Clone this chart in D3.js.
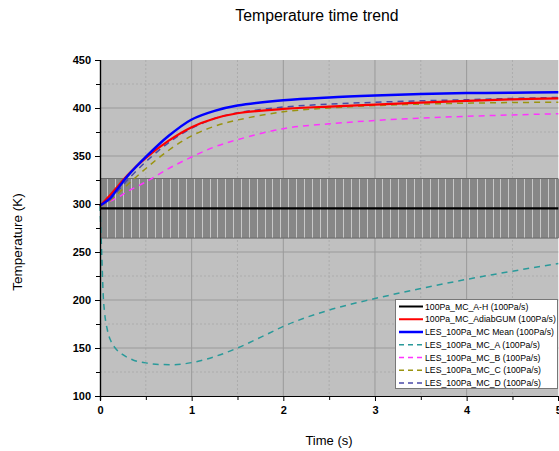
<!DOCTYPE html>
<html>
<head>
<meta charset="utf-8">
<script src="https://cdn.jsdelivr.net/npm/d3@7/dist/d3.min.js"></script>
<style>
  html, body { margin: 0; padding: 0; background: #fff; }
  svg { display: block; }
  text { font-family: Arial, "Liberation Sans", sans-serif; }
</style>
</head>
<body>
<svg id="chart" width="559" height="451"></svg>
<script>
// Temperature (K) against time (s) for the 100 Pa/s cases

// Reference run A-H: constant level with a symmetric uncertainty band
const refLevel = 295.5;
const refHalfBand = 31;
const refStep = 0.0125;

// Adiabatic GUM model
const gumTime = [0, 0.1, 0.2, 0.3, 0.5, 0.75, 1, 1.25, 1.5, 2, 2.5, 3, 3.5, 4, 4.5, 5];
const gumTemp = [298, 308, 319, 330, 348, 366, 380, 389, 394.5, 399, 401.5, 403.5, 405.5, 407.5, 409, 410];

// LES mean over the runs
const meanTime = [0, 0.1, 0.2, 0.3, 0.5, 0.75, 1, 1.25, 1.5, 2, 2.5, 3, 3.5, 4, 4.5, 5];
const meanTemp = [298.5, 305, 317, 329, 349, 371, 388, 397, 402.5, 408, 411, 413, 414.5, 415.5, 416, 416.5];

// LES run A
const aTime = [0, 0.01, 0.02, 0.035, 0.05, 0.08, 0.12, 0.17, 0.25, 0.36, 0.5, 0.65, 0.8, 1, 1.25, 1.5, 1.75, 2, 2.5, 3, 3.5, 4, 4.5, 5];
const aTemp = [299, 272, 245, 205, 187, 169, 157, 149.5, 143, 137.5, 134.5, 132.8, 132.6, 134.8, 141, 150, 161, 172.5, 189.5, 201.5, 212, 221.5, 230, 238];

// LES run B
const bTime = [0, 0.1, 0.2, 0.3, 0.5, 0.75, 1, 1.25, 1.5, 2, 2.5, 3, 3.5, 4, 4.5, 5];
const bTemp = [298, 302.5, 307, 313, 323, 337, 349, 359.5, 367, 378.5, 383.5, 387, 389.5, 391.3, 392.8, 394];

// LES run C
const cTime = [0, 0.1, 0.2, 0.3, 0.5, 0.75, 1, 1.25, 1.5, 2, 2.5, 3, 3.5, 4, 4.5, 5];
const cTemp = [298, 303, 311, 320, 337, 356, 371, 381, 387.5, 396, 400, 402.5, 404, 405, 405.7, 406];

// LES run D
const dTime = [0, 0.1, 0.2, 0.3, 0.5, 0.75, 1, 1.25, 1.5, 2, 2.5, 3, 3.5, 4, 4.5, 5];
const dTemp = [298, 304, 314, 325, 344, 364, 379, 389, 395, 401, 404, 406, 407.5, 408.6, 410, 411];

const legendLabels = [
  "100Pa_MC_A-H (100Pa/s)",
  "100Pa_MC_AdiabGUM (100Pa/s)",
  "LES_100Pa_MC Mean (100Pa/s)",
  "LES_100Pa_MC_A (100Pa/s)",
  "LES_100Pa_MC_B (100Pa/s)",
  "LES_100Pa_MC_C (100Pa/s)",
  "LES_100Pa_MC_D (100Pa/s)"
];

const xTicks = [0, 1, 2, 3, 4, 5];
const yTicks = [100, 150, 200, 250, 300, 350, 400, 450];

const svg = d3.select("#chart");
const plot = { left: 100, right: 558.3, top: 60, bottom: 396 };

const x = d3.scaleLinear().domain([0, 5]).range([plot.left, plot.right]);
const y = d3.scaleLinear().domain([100, 450]).range([plot.bottom, plot.top]);

svg.append("rect").attr("width", 559).attr("height", 451).attr("fill", "#fff");

// plot background
svg.append("rect")
  .attr("x", plot.left).attr("y", plot.top)
  .attr("width", plot.right - plot.left).attr("height", plot.bottom - plot.top)
  .attr("fill", "#c0c0c0");

const grid = svg.append("g");
// minor grid (dotted)
const xMinor = d3.range(0.5, 5, 1);
const yMinor = d3.range(125, 450, 50);
grid.selectAll(".xm").data(xMinor).join("line")
  .attr("x1", d => x(d)).attr("x2", d => x(d))
  .attr("y1", plot.top).attr("y2", plot.bottom)
  .attr("stroke", "#acacac").attr("stroke-width", 1).attr("stroke-dasharray", "2,2");
grid.selectAll(".ym").data(yMinor).join("line")
  .attr("x1", plot.left).attr("x2", plot.right)
  .attr("y1", d => y(d)).attr("y2", d => y(d))
  .attr("stroke", "#acacac").attr("stroke-width", 1).attr("stroke-dasharray", "2,2");
// major grid
grid.selectAll(".xg").data(xTicks.slice(1, -1)).join("line")
  .attr("x1", d => x(d)).attr("x2", d => x(d))
  .attr("y1", plot.top).attr("y2", plot.bottom)
  .attr("stroke", "#9a9a9a").attr("stroke-width", 1);
grid.selectAll(".yg").data(yTicks.slice(1, -1)).join("line")
  .attr("x1", plot.left).attr("x2", plot.right)
  .attr("y1", d => y(d)).attr("y2", d => y(d))
  .attr("stroke", "#9a9a9a").attr("stroke-width", 1);

// error bars of the reference run
const errTimes = d3.range(0, 5 + refStep / 2, refStep);
const eb = svg.append("g");
eb.append("rect")
  .attr("x", plot.left).attr("y", y(refLevel + refHalfBand))
  .attr("width", plot.right - plot.left)
  .attr("height", y(refLevel - refHalfBand) - y(refLevel + refHalfBand))
  .attr("fill", "#c8c8c8");
eb.selectAll("line.bar").data(errTimes).join("line")
  .attr("class", "bar")
  .attr("x1", d => x(d)).attr("x2", d => x(d))
  .attr("y1", y(refLevel + refHalfBand)).attr("y2", y(refLevel - refHalfBand))
  .attr("stroke", "#878787").attr("stroke-width", 1)
  .attr("shape-rendering", "crispEdges");
[refLevel + refHalfBand, refLevel - refHalfBand].forEach(v => {
  eb.append("line")
    .attr("x1", plot.left).attr("x2", plot.right)
    .attr("y1", y(v)).attr("y2", y(v))
    .attr("stroke", "#666").attr("stroke-width", 1);
});

const smooth = d3.line().x(d => x(d[0])).y(d => y(d[1])).curve(d3.curveCatmullRom.alpha(0.5));
const mono = d3.line().x(d => x(d[0])).y(d => y(d[1])).curve(d3.curveMonotoneX);
const zip = (t, v) => t.map((d, i) => [d, v[i]]);

const series = [
  { data: [[0, refLevel], [5, refLevel]], color: "#000000", width: 2.2, dash: null, gen: smooth },
  { data: zip(gumTime, gumTemp), color: "#ff0000", width: 2.2, dash: null, gen: smooth },
  { data: zip(meanTime, meanTemp), color: "#0000ff", width: 2.5, dash: null, gen: smooth },
  { data: zip(aTime, aTemp), color: "#2a9a9a", width: 1.5, dash: "6,5", gen: mono },
  { data: zip(bTime, bTemp), color: "#ff33ff", width: 1.5, dash: "6,5", gen: smooth },
  { data: zip(cTime, cTemp), color: "#9a9410", width: 1.5, dash: "6,5", gen: smooth },
  { data: zip(dTime, dTemp), color: "#4a4aa8", width: 1.5, dash: "6,5", gen: smooth }
];

// draw order: black, dashed runs, then red and blue on top
const order = [0, 3, 4, 5, 6, 1, 2];
const lines = svg.append("g");
order.forEach(i => {
  const s = series[i];
  lines.append("path")
    .attr("d", s.gen(s.data))
    .attr("fill", "none")
    .attr("stroke", s.color)
    .attr("stroke-width", s.width)
    .attr("stroke-dasharray", s.dash);
});

// axes
const xAxis = d3.axisBottom(x).tickValues(xTicks).tickSize(5).tickPadding(5).tickFormat(d3.format("d"));
const xAxisMinor = d3.axisBottom(x).tickValues(xMinor).tickSize(4).tickFormat("");
const yAxis = d3.axisLeft(y).tickValues(yTicks).tickSize(5).tickPadding(4).tickFormat(d3.format("d"));
const yAxisMinor = d3.axisLeft(y).tickValues(yMinor).tickSize(4).tickFormat("");

function styleAxis(g) {
  g.select(".domain").attr("stroke", "#000").attr("stroke-width", 1.2);
  g.selectAll(".tick line").attr("stroke", "#000").attr("stroke-width", 1);
  g.selectAll(".tick text")
    .attr("fill", "#000")
    .style("font-family", "Arial, 'Liberation Sans', sans-serif")
    .style("font-size", "11px")
    .style("font-weight", "bold");
}

svg.append("g").attr("transform", `translate(0,${plot.bottom})`).call(xAxisMinor).call(styleAxis);
svg.append("g").attr("transform", `translate(0,${plot.bottom})`).call(xAxis).call(styleAxis);
svg.append("g").attr("transform", `translate(${plot.left},0)`).call(yAxisMinor).call(styleAxis);
svg.append("g").attr("transform", `translate(${plot.left},0)`).call(yAxis).call(styleAxis);

// legend
const lg = svg.append("g");
lg.append("rect")
  .attr("x", 395.5).attr("y", 299.5).attr("width", 162).attr("height", 89)
  .attr("fill", "#fff").attr("stroke", "#777").attr("stroke-width", 1);
const rowY = i => 306.5 + i * 12.75;
legendLabels.forEach((lab, i) => {
  const s = series[i];
  lg.append("line")
    .attr("x1", 399).attr("x2", 423)
    .attr("y1", rowY(i)).attr("y2", rowY(i))
    .attr("stroke", s.color)
    .attr("stroke-width", s.dash ? 1.5 : (i === 2 ? 2.5 : 2))
    .attr("stroke-dasharray", s.dash ? "5,4" : null);
  lg.append("text")
    .attr("x", 425).attr("y", rowY(i)).attr("dy", "0.35em")
    .attr("font-size", "8.7px").attr("fill", "#000")
    .text(lab);
});

// titles
svg.append("text")
  .attr("x", 317).attr("y", 21).attr("text-anchor", "middle")
  .attr("font-size", "15.8px").attr("fill", "#000")
  .text("Temperature time trend");
svg.append("text")
  .attr("x", 329).attr("y", 445).attr("text-anchor", "middle")
  .attr("font-size", "13px").attr("fill", "#000")
  .text("Time (s)");
svg.append("text")
  .attr("transform", "translate(22,242) rotate(-90)")
  .attr("text-anchor", "middle")
  .attr("font-size", "13.5px").attr("fill", "#000")
  .text("Temperature (K)");
</script>
</body>
</html>
